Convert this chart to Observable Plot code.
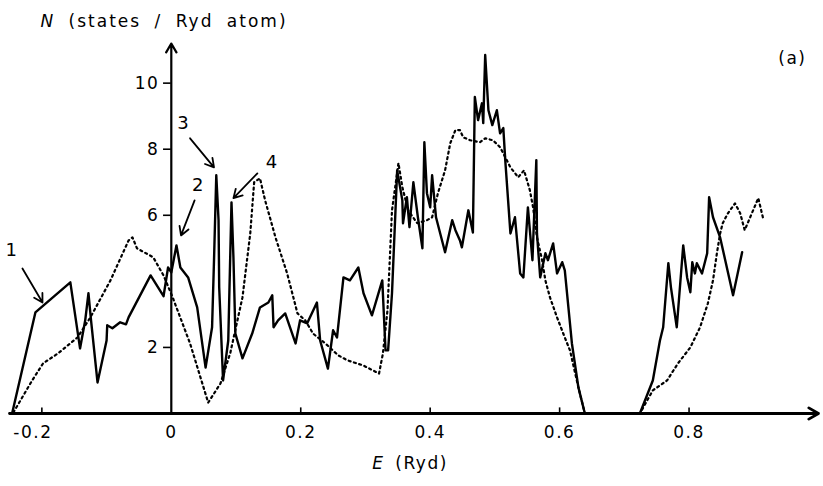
<!DOCTYPE html>
<html>
<head>
<meta charset="utf-8">
<script src="https://cdn.jsdelivr.net/npm/d3@7"></script>
<script src="https://cdn.jsdelivr.net/npm/@observablehq/plot@0.6"></script>
<style>
  html, body { margin: 0; padding: 0; background: #fff; }
  #chart { width: 823px; height: 486px; }
</style>
</head>
<body>
<div id="chart"></div>
<script>
// ---- data ----
const solidE = [-0.246,-0.210,-0.156,-0.141,-0.133,-0.128,-0.124,-0.114,-0.100,-0.099,-0.091,-0.079,-0.070,-0.066,-0.032,-0.012,-0.005,0.000,0.008,0.014,0.026,0.040,0.053,0.063,0.066,0.0695,0.073,0.074,0.080,0.088,0.093,0.096,0.099,0.110,0.125,0.137,0.150,0.156,0.158,0.165,0.176,0.192,0.199,0.210,0.225,0.230,0.242,0.250,0.256,0.266,0.276,0.289,0.297,0.310,0.326,0.331,0.335,0.341,0.349,0.357,0.358,0.364,0.368,0.374,0.381,0.388,0.391,0.395,0.400,0.403,0.409,0.423,0.434,0.439,0.446,0.449,0.459,0.466,0.469,0.474,0.480,0.482,0.485,0.490,0.496,0.503,0.508,0.513,0.516,0.524,0.531,0.539,0.544,0.551,0.558,0.564,0.565,0.570,0.578,0.582,0.590,0.596,0.604,0.608,0.619,0.629,0.639,0.724,0.744,0.755,0.760,0.768,0.772,0.781,0.791,0.797,0.802,0.805,0.809,0.812,0.820,0.828,0.831,0.837,0.848,0.868,0.882];
const solidN = [0,3.06,3.97,1.97,2.82,3.64,2.82,0.94,2.21,2.67,2.58,2.76,2.70,2.91,4.18,3.55,4.42,4.27,5.09,4.42,4.12,3.21,1.39,2.61,4.64,7.21,5.85,3.82,1.00,2.21,6.39,4.73,2.42,1.67,2.42,3.21,3.36,3.58,2.61,2.82,3.03,2.12,2.82,2.73,3.36,2.21,1.36,2.52,2.30,4.12,4.03,4.42,3.64,2.97,4.03,1.91,1.91,3.64,7.36,6.45,5.76,6.55,5.64,7.00,5.94,5.00,8.21,6.67,6.24,7.21,5.94,4.88,5.85,5.55,5.24,5.03,6.15,5.48,9.58,8.88,9.39,8.79,10.85,9.18,8.73,9.18,8.48,8.64,7.67,5.45,5.94,4.24,4.12,6.24,4.64,7.67,5.45,4.12,4.85,4.64,5.15,4.24,4.58,4.33,2.12,0.79,0,0,1.00,2.21,2.61,4.55,3.82,2.61,5.09,4.12,3.67,4.58,4.24,4.55,4.24,4.85,6.55,5.94,5.33,3.58,4.88];

const dotE = [-0.244,-0.215,-0.198,-0.175,-0.145,-0.125,-0.094,-0.066,-0.060,-0.053,-0.028,-0.012,0.002,0.029,0.057,0.076,0.091,0.110,0.122,0.128,0.137,0.145,0.161,0.179,0.195,0.207,0.219,0.238,0.258,0.272,0.297,0.321,0.327,0.334,0.341,0.351,0.357,0.366,0.380,0.395,0.403,0.412,0.423,0.431,0.439,0.446,0.451,0.462,0.477,0.485,0.497,0.508,0.516,0.524,0.536,0.545,0.554,0.559,0.565,0.573,0.578,0.585,0.596,0.608,0.616,0.629,0.639,0.724,0.744,0.766,0.783,0.802,0.817,0.829,0.837,0.843,0.848,0.852,0.860,0.871,0.879,0.886,0.897,0.907,0.914];
const dotN = [0.03,1.00,1.52,1.82,2.30,2.91,4.03,5.24,5.33,5.00,4.73,4.18,3.52,2.12,0.33,0.91,1.82,3.52,5.45,7.00,7.12,6.45,5.33,4.24,3.03,2.82,2.42,2.12,1.76,1.61,1.45,1.21,1.82,3.12,6.15,7.58,6.85,6.15,5.76,5.85,5.94,6.67,7.36,8.18,8.58,8.58,8.36,8.27,8.21,8.33,8.27,8.06,7.76,7.45,7.15,7.36,6.76,6.24,5.33,4.64,4.03,3.52,2.91,2.30,1.91,0.79,0,0,0.70,1.00,1.52,2.00,2.61,3.33,4.03,4.85,5.45,5.76,6.06,6.36,6.06,5.55,6.06,6.52,5.94];

const xTicks = [-0.2, 0, 0.2, 0.4, 0.6, 0.8];
const xTickLabels = ["-0.2", "0", "0.2", "0.4", "0.6", "0.8"];
const yTicks = [2, 6, 8, 10];
const yTickLabels = ["2", "6", "8", "10"];

const calloutLabels = ["1", "2", "3", "4"];
const calloutLabelE = [-0.246, 0.042, 0.019, 0.156];
const calloutLabelN = [4.94, 6.91, 8.79, 7.60];
const calloutFromE = [-0.230, 0.036, 0.029, 0.133];
const calloutFromN = [4.39, 6.45, 8.33, 7.27];
const calloutToE = [-0.199, 0.015, 0.066, 0.096];
const calloutToN = [3.36, 5.39, 7.45, 6.52];

const xDomain = [-0.25, 1.0];
const yDomain = [0, 11.2];

// ---- tables built from the arrays ----
const solid = solidE.map((e, i) => ({E: e, N: solidN[i]}));
const dotted = dotE.map((e, i) => ({E: e, N: dotN[i]}));
const xt = xTicks.map((v, i) => ({v, label: xTickLabels[i]}));
const yt = yTicks.map((v, i) => ({v, label: yTickLabels[i]}));
const callouts = calloutLabels.map((t, i) => ({
  t, lx: calloutLabelE[i], ly: calloutLabelN[i],
  x1: calloutFromE[i], y1: calloutFromN[i], x2: calloutToE[i], y2: calloutToN[i]
}));

const font = "'DejaVu Sans', sans-serif";

const chart = Plot.plot({
  width: 823,
  height: 486,
  marginLeft: 9,
  marginRight: 5,
  marginTop: 43,
  marginBottom: 73,
  style: {fontFamily: font, fontSize: "17px", background: "#fff", color: "#000", letterSpacing: "1.5px"},
  x: {domain: xDomain, axis: null},
  y: {domain: yDomain, axis: null},
  marks: [
    // axes
    Plot.arrow([{x1: xDomain[0], x2: xDomain[1], y: 0}], {x1: "x1", x2: "x2", y1: "y", y2: "y", stroke: "#000", strokeWidth: 2.8, headLength: 6}),
    Plot.arrow([{x: 0, y1: 0, y2: yDomain[1]}], {x1: "x", x2: "x", y1: "y1", y2: "y2", stroke: "#000", strokeWidth: 2.2, headLength: 7}),
    // x ticks (upward) and labels
    Plot.ruleX(xt.filter(d => d.v !== 0), {x: "v", y1: 0, y2: 0.17, stroke: "#000", strokeWidth: 1.6}),
    Plot.text(xt.filter(d => d.v >= 0), {x: "v", y: 0, text: "label", dy: 19, fill: "#000", fontSize: 17}),
    Plot.text(xt.filter(d => d.v < 0), {x: "v", y: 0, text: "label", dy: 19, dx: -9, fill: "#000", fontSize: 17}),
    // y ticks (leftward) and labels
    Plot.ruleY(yt, {y: "v", x1: -0.012, x2: 0, stroke: "#000", strokeWidth: 1.6}),
    Plot.text(yt, {x: 0, y: "v", text: "label", dx: -12, textAnchor: "end", fill: "#000", fontSize: 17}),
    // curves
    Plot.line(dotted, {x: "E", y: "N", stroke: "#000", strokeWidth: 2.2, strokeDasharray: "2,3.5", curve: "linear"}),
    Plot.line(solid, {x: "E", y: "N", stroke: "#000", strokeWidth: 2.4, curve: "linear", strokeLinejoin: "round"}),
    // callouts
    Plot.arrow(callouts, {x1: "x1", y1: "y1", x2: "x2", y2: "y2", stroke: "#000", strokeWidth: 1.8, headLength: 8}),
    Plot.text(callouts, {x: "lx", y: "ly", text: "t", fill: "#000", fontSize: 18}),
    // titles
    Plot.text(["(a)"], {frameAnchor: "top-right", dx: -12, dy: 8, textAnchor: "end", fill: "#000", fontSize: 17}),
    Plot.text(["E (Ryd)"], {frameAnchor: "bottom", dx: -4, dy: 55, fill: "#000", fontSize: 17}),
    Plot.text(["N (states / Ryd atom)"], {frameAnchor: "top-left", dx: 31, dy: -29, textAnchor: "start", fill: "#000", fontSize: 17})
  ]
});
document.getElementById("chart").appendChild(chart);

// italicise the variable letters in the axis titles and widen word gaps
d3.select(chart).selectAll("text").each(function() {
  const t = d3.select(this);
  const s = t.text();
  if (s === "E (Ryd)" || s === "N (states / Ryd atom)") {
    const first = s[0], rest = s.slice(1);
    const inner = t.select("tspan").empty() ? t : t.select("tspan");
    inner.text(null);
    inner.style("word-spacing", s[0] === "N" ? "6px" : "4px");
    if (s[0] === "N") inner.style("letter-spacing", "2px");
    inner.append("tspan").attr("font-style", "italic").text(first);
    inner.append("tspan").text(rest);
  }
});
</script>
</body>
</html>
